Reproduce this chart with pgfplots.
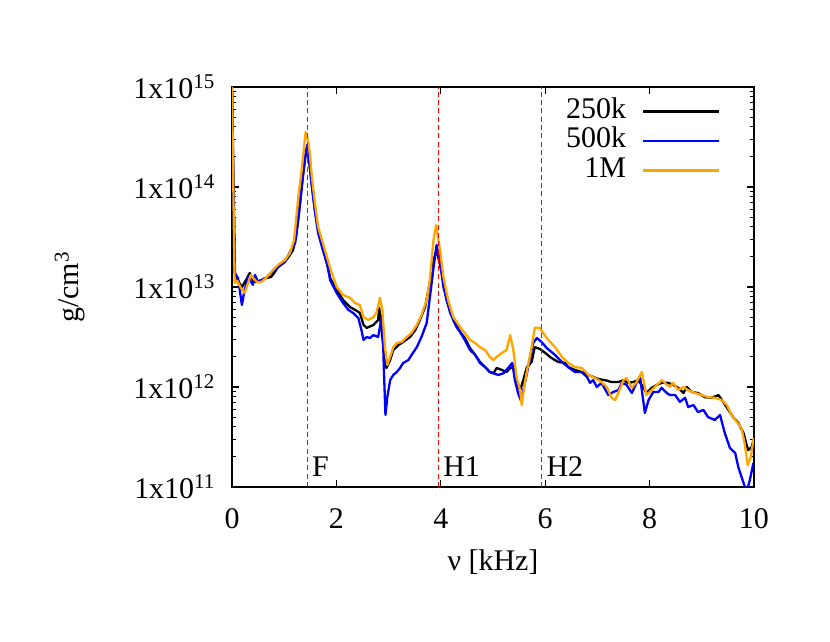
\documentclass[border=0pt]{standalone}
\usepackage{fontspec}
\setmainfont{Liberation Serif}
\usepackage{pgfplots}
\pgfplotsset{compat=1.18}
\definecolor{gorange}{RGB}{255,165,0}
\begin{document}
\fontsize{13}{15.6}\selectfont
\begin{tikzpicture}
\begin{axis}[
  at={(0pt,0pt)}, anchor=south west,
  scale only axis, width=226.4pt, height=173.5pt,
  xmin=0, xmax=10, ymin=1e11, ymax=1e15,
  ymode=log,
  xtick={0,2,4,6,8,10}, xticklabels={0,2,4,6,8,10},
  ytick={1e11,1e12,1e13,1e14,1e15},
  yticklabels={1x10\textsuperscript{11},1x10\textsuperscript{12},1x10\textsuperscript{13},1x10\textsuperscript{14},1x10\textsuperscript{15}},
  xticklabel style={yshift=-4.8pt},
  yticklabel style={xshift=-2.6pt},
  major tick length=3pt, minor tick length=1.7pt,
  tick align=inside,
  axis line style={line width=0.5pt},
  every tick/.style={black, line width=0.5pt},
  every axis x label/.style={at={(axis description cs:0.5,0)}, yshift=-32.5pt, anchor=center},
  every axis y label/.style={at={(axis description cs:0,0.5)}, xshift=-70.3pt, anchor=center, rotate=90},
  xlabel={ν [kHz]},
  ylabel={g/cm\textsuperscript{3}},
  legend cell align=right,
  legend plot pos=right,
  legend image code/.code={\draw[#1] (0pt,0pt) -- (33pt,0pt);},
  legend style={draw=none, fill=none, at={(axis description cs:1,1)}, anchor=north east,
    xshift=-14.3pt, yshift=-4pt, inner sep=0pt, row sep=0pt, column sep=5pt,
    nodes={inner sep=2pt, text height=7.3pt, text depth=1.5pt}},
  every axis plot/.append style={line width=1pt, line join=round},
]
% 250k
\addplot[black] coordinates {
(0,1e15)(0.057,1.38e13)(0.128,1.12e13)(0.19,1.0e13)(0.268,1.17e13)(0.34,1.38e13)(0.40,1.17e13)(0.46,1.12e13)(0.56,1.17e13)(0.65,1.23e13)(0.75,1.26e13)(0.82,1.41e13)(0.88,1.58e13)(0.98,1.74e13)(1.07,1.95e13)(1.17,2.34e13)(1.23,3.3e13)(1.30,6.6e13)(1.36,1.32e14)(1.41,2.09e14)(1.44,2.45e14)(1.475,1.86e14)(1.53,1.05e14)(1.59,5.9e13)(1.65,3.7e13)(1.78,2.09e13)(1.88,1.23e13)(2.006,9.3e12)(2.13,7.4e12)(2.26,6.3e12)(2.36,5.9e12)(2.45,5.5e12)(2.52,4.17e12)(2.58,3.9e12)(2.71,4.17e12)(2.80,4.68e12)(2.82,6.17e12)(2.90,2.5e12)(2.96,1.55e12)(3.03,1.86e12)(3.09,2.34e12)(3.19,2.63e12)(3.28,2.82e12)(3.41,3.16e12)(3.51,3.7e12)(3.60,4.68e12)(3.70,6.3e12)(3.79,1.1e13)(3.86,1.86e13)(3.92,2.34e13)(4.02,1.38e13)(4.11,7.4e12)(4.24,4.68e12)(4.37,3.55e12)(4.46,3.09e12)(4.56,2.45e12)(4.66,2.09e12)(4.75,1.78e12)(4.85,1.58e12)(4.94,1.41e12)(5.01,1.37e12)(5.07,1.55e12)(5.17,1.48e12)(5.26,1.41e12)(5.33,1.55e12)(5.39,1.58e12)(5.45,1.12e12)(5.52,9.3e11)(5.58,1.17e12)(5.65,1.58e12)(5.74,1.78e12)(5.80,2.5e12)(5.90,2.4e12)(6.00,2.19e12)(6.12,1.95e12)(6.25,1.78e12)(6.38,1.74e12)(6.44,1.58e12)(6.57,1.48e12)(6.70,1.41e12)(6.83,1.32e12)(6.92,1.26e12)(7.02,1.2e12)(7.15,1.17e12)(7.27,1.12e12)(7.40,1.12e12)(7.50,1.17e12)(7.59,1.1e12)(7.69,1.12e12)(7.78,1.17e12)(7.88,1.0e12)(7.94,8.7e11)(8.04,9.8e11)(8.14,1.05e12)(8.23,1.1e12)(8.36,1.1e12)(8.45,1.05e12)(8.55,9.8e11)(8.65,8.7e11)(8.71,1.0e12)(8.81,8.9e11)(8.93,8.7e11)(9.06,7.9e11)(9.19,7.8e11)(9.32,8.3e11)(9.41,7.1e11)(9.51,5.9e11)(9.60,5.0e11)(9.70,4.37e11)(9.80,3.47e11)(9.86,2.63e11)(9.89,2.34e11)(9.955,2.5e11)(9.99,2.95e11)
};
\addlegendentry{250k}
% 500k
\addplot[blue] coordinates {
(0,1e15)(0.05,1.38e13)(0.115,1.23e13)(0.19,6.6e12)(0.24,9.3e12)(0.31,1.26e13)(0.40,1.05e13)(0.44,1.32e13)(0.50,1.12e13)(0.56,1.17e13)(0.65,1.23e13)(0.75,1.38e13)(0.88,1.58e13)(1.015,1.78e13)(1.13,2.34e13)(1.21,2.75e13)(1.28,5.2e13)(1.34,1.05e14)(1.40,1.95e14)(1.44,2.63e14)(1.475,1.95e14)(1.53,1.0e14)(1.59,5.6e13)(1.65,3.47e13)(1.74,2.34e13)(1.84,1.58e13)(1.88,1.17e13)(2.006,8.7e12)(2.13,6.9e12)(2.23,5.9e12)(2.32,5.5e12)(2.42,4.9e12)(2.48,3.7e12)(2.52,2.95e12)(2.58,3.16e12)(2.64,3.09e12)(2.71,3.3e12)(2.80,3.16e12)(2.84,4.17e12)(2.88,5.25e12)(2.91,1.48e12)(2.94,5.25e11)(2.975,7.9e11)(3.03,1.17e12)(3.09,1.32e12)(3.155,1.41e12)(3.22,1.55e12)(3.28,1.74e12)(3.38,1.86e12)(3.44,2.09e12)(3.54,2.5e12)(3.63,3.16e12)(3.73,4.37e12)(3.79,7.8e12)(3.86,1.55e13)(3.92,2.63e13)(3.98,1.86e13)(4.05,1.0e13)(4.18,5.5e12)(4.30,3.98e12)(4.37,3.55e12)(4.46,2.95e12)(4.56,2.34e12)(4.66,2.09e12)(4.75,1.74e12)(4.85,1.58e12)(4.94,1.41e12)(5.01,1.37e12)(5.10,1.32e12)(5.20,1.37e12)(5.29,1.55e12)(5.37,1.74e12)(5.42,1.17e12)(5.48,8.7e11)(5.53,7.4e11)(5.58,9.3e11)(5.65,1.37e12)(5.71,1.95e12)(5.77,2.75e12)(5.84,3.09e12)(5.93,2.82e12)(6.03,2.45e12)(6.19,2.09e12)(6.32,1.78e12)(6.44,1.58e12)(6.57,1.41e12)(6.70,1.41e12)(6.80,1.26e12)(6.86,1.1e12)(6.92,1.17e12)(6.99,1.0e12)(7.08,1.1e12)(7.21,8.3e11)(7.30,8.9e11)(7.40,9.3e11)(7.47,1.1e12)(7.56,1.05e12)(7.66,8.7e11)(7.75,1.1e12)(7.82,1.23e12)(7.91,5.5e11)(7.98,7.4e11)(8.07,8.9e11)(8.17,8.9e11)(8.23,9.8e11)(8.33,8.7e11)(8.39,8.3e11)(8.49,8.3e11)(8.58,7.1e11)(8.68,7.8e11)(8.74,6.3e11)(8.84,6.6e11)(8.93,5.6e11)(9.03,5.9e11)(9.12,5.0e11)(9.25,4.68e11)(9.35,5.25e11)(9.44,3.47e11)(9.54,2.45e11)(9.64,2.19e11)(9.70,1.58e11)(9.80,1.1e11)(9.86,8.9e10)(9.92,1.17e11)(9.99,1.74e11)
};
\addlegendentry{500k}
% 1M
\addplot[gorange] coordinates {
(0,1e15)(0.05,1.1e13)(0.10,1.15e13)(0.17,9.8e12)(0.24,8.7e12)(0.31,1.1e13)(0.36,1.32e13)(0.42,1.2e13)(0.48,1.12e13)(0.56,1.12e13)(0.65,1.23e13)(0.75,1.41e13)(0.88,1.66e13)(1.015,1.86e13)(1.11,2.19e13)(1.19,2.95e13)(1.27,7.9e13)(1.335,1.48e14)(1.38,2.5e14)(1.41,3.55e14)(1.455,2.95e14)(1.49,2.19e14)(1.53,1.26e14)(1.59,6.9e13)(1.65,3.98e13)(1.78,2.34e13)(1.88,1.55e13)(2.006,1.0e13)(2.13,8.3e12)(2.26,7.8e12)(2.36,6.9e12)(2.45,6.6e12)(2.52,5.0e12)(2.61,4.68e12)(2.71,5.0e12)(2.77,5.6e12)(2.835,7.8e12)(2.88,5.9e12)(2.93,2.5e12)(2.975,1.66e12)(3.03,2.0e12)(3.09,2.5e12)(3.155,2.75e12)(3.25,2.82e12)(3.35,3.16e12)(3.44,3.47e12)(3.54,4.17e12)(3.63,5.25e12)(3.73,7.4e12)(3.79,1.17e13)(3.86,2.95e13)(3.91,4.17e13)(3.985,2.34e13)(4.05,1.26e13)(4.14,7.4e12)(4.24,5.0e12)(4.37,3.98e12)(4.46,3.47e12)(4.56,2.95e12)(4.66,2.75e12)(4.75,2.5e12)(4.85,2.34e12)(4.94,2.0e12)(5.01,1.86e12)(5.07,2.0e12)(5.17,2.19e12)(5.26,2.34e12)(5.33,3.3e12)(5.39,2.34e12)(5.45,1.26e12)(5.52,9.3e11)(5.55,6.6e11)(5.61,1.1e12)(5.68,1.74e12)(5.74,2.5e12)(5.80,3.9e12)(5.90,3.9e12)(5.96,3.47e12)(6.06,2.95e12)(6.19,2.5e12)(6.32,2.0e12)(6.44,1.74e12)(6.57,1.58e12)(6.70,1.55e12)(6.83,1.32e12)(6.95,1.23e12)(7.08,1.12e12)(7.18,1.0e12)(7.27,7.8e11)(7.34,7.4e11)(7.40,8.7e11)(7.50,1.17e12)(7.56,1.23e12)(7.66,9.8e11)(7.75,1.12e12)(7.85,1.41e12)(7.90,1.05e12)(7.94,8.3e11)(8.04,9.3e11)(8.14,1.05e12)(8.24,1.17e12)(8.33,1.05e12)(8.39,1.0e12)(8.45,1.1e12)(8.55,9.3e11)(8.64,1.0e12)(8.74,9.3e11)(8.87,8.7e11)(9.00,8.3e11)(9.12,7.9e11)(9.25,7.8e11)(9.38,7.4e11)(9.48,6.6e11)(9.57,5.25e11)(9.67,4.47e11)(9.76,3.9e11)(9.82,2.75e11)(9.88,1.66e11)(9.94,2.0e11)(9.995,3.09e11)
};
\addlegendentry{1M}
% harmonic markers
\addplot[red, line width=0.45pt, dash pattern=on 2.2pt off 1.4pt, forget plot] coordinates {(1.44,1e11)(1.44,1e15)};
\addplot[red, line width=0.45pt, dash pattern=on 2.2pt off 1.4pt, forget plot] coordinates {(3.95,1e11)(3.95,1e15)};
\addplot[red, line width=0.45pt, dash pattern=on 2.2pt off 1.4pt, forget plot] coordinates {(5.93,1e11)(5.93,1e15)};
\node[anchor=west, inner sep=2pt] at (axis cs:1.44,1.6e11) {F};
\node[anchor=west, inner sep=2pt] at (axis cs:3.95,1.6e11) {H1};
\node[anchor=west, inner sep=2pt] at (axis cs:5.93,1.6e11) {H2};
\end{axis}
\pgfresetboundingbox
\path[use as bounding box] (-100.63pt,-67.23pt) rectangle (259.37pt,211.23pt);
\end{tikzpicture}
\end{document}
